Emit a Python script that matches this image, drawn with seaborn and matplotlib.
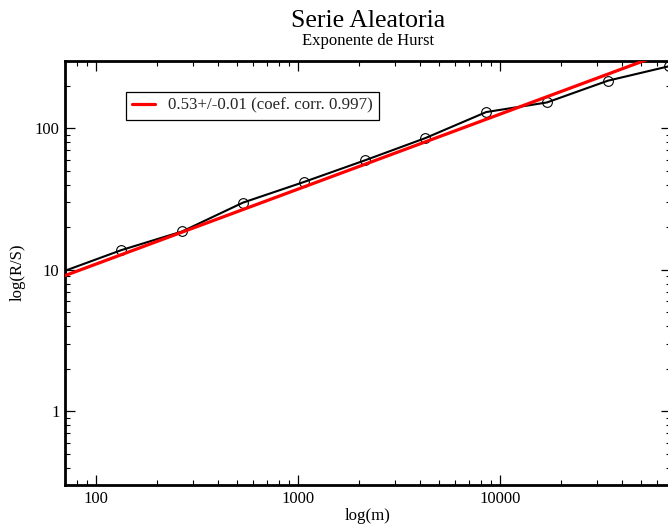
import numpy as np
import pandas as pd
import seaborn as sns
import matplotlib
matplotlib.use("Agg")
import matplotlib.pyplot as plt
from matplotlib.ticker import LogLocator, FuncFormatter, NullFormatter

# ---- data ----
m_values = [66.5, 133, 266, 532, 1064, 2128, 4256, 8512, 17024, 34048, 68096]
rs_values = [9.6, 13.8, 18.7, 29.9, 41.8, 59.4, 85.5, 130.6, 152.8, 217.6, 275.0]
fit_slope = 0.53
fit_log_intercept = -0.018
legend_label = "0.53+/-0.01 (coef. corr. 0.997)"
title_text = "Serie Aleatoria"
subtitle_text = "Exponente de Hurst"
x_label = "log(m)"
y_label = "log(R/S)"

sns.set_theme(style="ticks")
plt.rcParams['font.family'] = ['Liberation Serif', 'DejaVu Serif']

df = pd.DataFrame({"m": m_values, "rs": rs_values})
fit_df = pd.DataFrame({"m": m_values})
fit_df["rs"] = 10 ** fit_log_intercept * fit_df["m"] ** fit_slope

fig = plt.figure(figsize=(6.68, 5.27), dpi=100)
W, H = 668, 527
left_px, right_px, top_px, bottom_px = 65, 671, 61, 485.3
ax = fig.add_axes([left_px / W, 1 - bottom_px / H,
                   (right_px - left_px) / W, (bottom_px - top_px) / H])
ax.set_facecolor("white")

sns.lineplot(data=df, x="m", y="rs", ax=ax, color="black", linewidth=1.5,
             marker="o", markersize=7, markerfacecolor="none",
             markeredgecolor="black", markeredgewidth=0.8, legend=False,
             zorder=2)
sns.lineplot(data=fit_df, x="m", y="rs", ax=ax, color="#ff0000",
             linewidth=2.3, label=legend_label, zorder=3)

ax.set_xscale("log")
ax.set_yscale("log")
ax.set_xlim(70, 70000)
ax.set_ylim(0.3, 300)

fmt = FuncFormatter(lambda v, _: f"{v:g}")
for axis in (ax.xaxis, ax.yaxis):
    axis.set_major_locator(LogLocator(base=10))
    axis.set_minor_locator(LogLocator(base=10, subs=np.arange(2, 10)))
    axis.set_major_formatter(fmt)
    axis.set_minor_formatter(NullFormatter())

ax.tick_params(which="both", direction="in", top=True, right=True,
               colors="black", labelsize=12, labelcolor="black")
ax.tick_params(which="major", length=7.5, width=0.9, pad=4)
ax.tick_params(which="minor", length=3.8, width=0.8)
for s in ax.spines.values():
    s.set_linewidth(2.0)
    s.set_color("black")

ax.set_xlabel("")
ax.set_ylabel("")
ax.grid(False)

leg = ax.legend(loc="upper left", bbox_to_anchor=(0.1002, 0.9276),
                borderaxespad=0, fancybox=False, frameon=True,
                edgecolor="black", fontsize=12.2, handlelength=1.4,
                handletextpad=0.75, borderpad=0.35)
leg.get_frame().set_linewidth(0.9)
leg.get_frame().set_alpha(1)

cx = (left_px + right_px) / 2 / W
fig.text(cx, 1 - 27 / H, title_text, ha="center", va="baseline",
         fontsize=18.5, color="black")
fig.text(cx, 1 - 45 / H, subtitle_text, ha="center", va="baseline",
         fontsize=12, color="black")
fig.text(cx, 1 - 516 / H, x_label, ha="center", va="center",
         fontsize=12.2, color="black")
fig.text(18 / W, 1 - 272 / H, y_label, ha="center", va="center",
         rotation=90, fontsize=12, color="black")

fig.savefig("out.png", dpi=100, facecolor="white")
